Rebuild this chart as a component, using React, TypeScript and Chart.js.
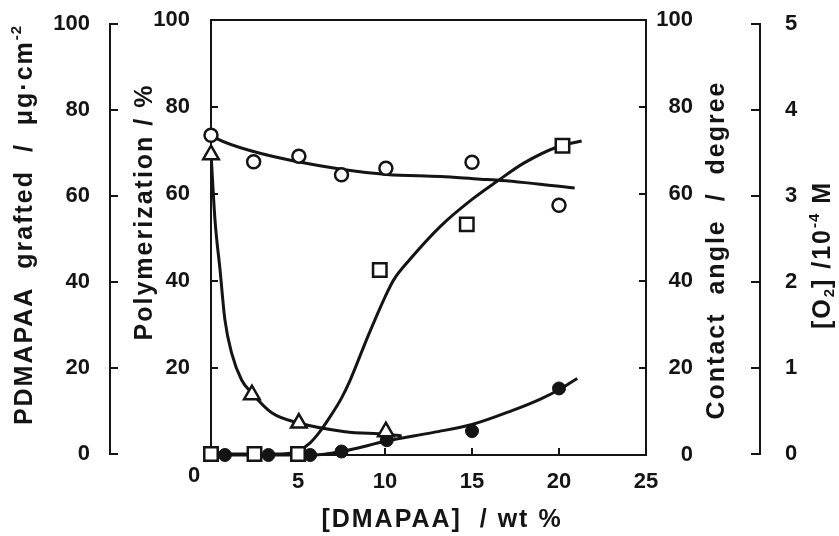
import React, { useEffect, useRef } from 'react';
import { Chart, registerables } from 'chart.js';

Chart.register(...registerables);

// ---- tick values ----
const xTicks = [0, 5, 10, 15, 20, 25];
const pctTicks = [0, 20, 40, 60, 80, 100];
const o2Ticks = [0, 1, 2, 3, 4, 5];

// ---- contact angle (open circles, right inner axis) ----
const caX = [0, 2.45, 5.05, 7.5, 10.05, 15.0, 20.0];
const caY = [73.5, 67.4, 68.7, 64.4, 65.9, 67.3, 57.4];
const caFitX = [0, 0.3, 2.5, 5.0, 7.5, 10.1, 13.2, 15.5, 16.4, 20.9];
const caFitY = [73.6, 72.8, 69.7, 67.4, 65.7, 64.5, 64.0, 63.4, 63.2, 61.4];

// ---- PDMAPAA grafted (open squares, left outer axis) ----
const pdX = [0, 2.5, 5.0, 9.7, 14.7, 20.2];
const pdY = [0, 0, 0, 42.8, 53.4, 71.7];
const pdFitX = [0, 3, 4, 5, 5.7, 6.2, 6.8, 7.5, 8, 9, 10, 10.5, 11.4, 13.2, 15, 16.4, 18, 19.9, 21.3];
const pdFitY = [0, 0, 0, 0.7, 2.6, 4.9, 8.4, 13.0, 17.2, 27.2, 36.5, 40.5, 45.1, 53.0, 59.2, 63.3, 67.7, 71.4, 72.8];

// ---- Polymerization (filled circles, left inner axis) ----
const polyX = [0.8, 3.3, 5.7, 7.5, 10.1, 15.0, 20.0];
const polyY = [0, 0, 0, 0.8, 3.4, 5.5, 15.3];
const polyFitX = [0, 5.9, 7.5, 10.1, 12.8, 15, 17.3, 18.9, 20, 21.05];
const polyFitY = [0, 0, 0.8, 3.2, 5.2, 7.0, 10.2, 12.8, 15.0, 17.6];

// ---- [O2] (open triangles, right outer axis) ----
const o2X = [0, 2.35, 5.05, 10.05];
const o2Y = [3.48, 0.69, 0.36, 0.26];
const o2FitX = [0, 0.23, 0.52, 0.8, 1.19, 1.76, 2.34, 3.49, 5.06, 7.7, 10.05, 10.96];
const o2FitY = [3.5, 2.72, 2.14, 1.56, 1.17, 0.86, 0.71, 0.48, 0.36, 0.26, 0.23, 0.21];

const FONT = '"Liberation Sans", Arial, Helvetica, sans-serif';
const INK = '#141414';

type Part = { t: string; sup?: boolean; sub?: boolean };
const titlePD: Part[] = [{ t: 'PDMAPAA  grafted  /  \u03bcg\u00b7cm' }, { t: '-2', sup: true }];
const titlePoly: Part[] = [{ t: 'Polymerization / %' }];
const titleCA: Part[] = [{ t: 'Contact  angle  /  degree' }];
const titleO2: Part[] = [{ t: '[O' }, { t: '2', sub: true }, { t: '] /10' }, { t: '-4', sup: true }, { t: ' M' }];
const titleX: Part[] = [{ t: '[DMAPAA]  / wt %' }];

const pts = (xs: number[], ys: number[]) => xs.map((x, i) => ({ x, y: ys[i] }));

function drawRich(ctx: CanvasRenderingContext2D, parts: Part[], cx: number, cy: number, rot: boolean) {
  ctx.save();
  ctx.translate(cx, cy);
  if (rot) ctx.rotate(-Math.PI / 2);
  ctx.textBaseline = 'middle';
  ctx.textAlign = 'left';
  ctx.fillStyle = INK;
  const setF = (p: Part) => {
    const small = p.sup || p.sub;
    ctx.font = `bold ${small ? 15 : 25}px ${FONT}`;
    (ctx as any).letterSpacing = small ? '1px' : '2px';
  };
  const widths = parts.map((p) => {
    setF(p);
    return ctx.measureText(p.t).width;
  });
  const total = widths.reduce((a, b) => a + b, 0);
  let x = -total / 2;
  parts.forEach((p, i) => {
    setF(p);
    const dy = p.sup ? -8 : p.sub ? 7 : 0;
    ctx.fillText(p.t, x, dy);
    x += widths[i];
  });
  ctx.restore();
}

const decor = {
  id: 'decor',
  beforeDatasetsDraw(chart: any) {
    const ctx: CanvasRenderingContext2D = chart.ctx;
    const { left, right, top, bottom } = chart.chartArea;
    const s = chart.scales;
    ctx.save();
    ctx.strokeStyle = INK;
    ctx.lineWidth = 2;
    ctx.lineCap = 'butt';
    ctx.strokeRect(left, top, right - left, bottom - top);
    const seg = (x1: number, y1: number, x2: number, y2: number) => {
      ctx.beginPath();
      ctx.moveTo(x1, y1);
      ctx.lineTo(x2, y2);
      ctx.stroke();
    };
    // inner ticks
    pctTicks.forEach((v) => {
      const p = s.y.getPixelForValue(v);
      seg(left, p, left + 7, p);
      const q = s.yCA.getPixelForValue(v);
      seg(right - 7, q, right, q);
    });
    xTicks.forEach((v) => {
      const p = s.x.getPixelForValue(v);
      seg(p, bottom, p, bottom - 7);
    });
    // outer left axis
    const xl = s.yPD.right;
    seg(xl, s.yPD.getPixelForValue(0) + 1, xl, s.yPD.getPixelForValue(100) - 1);
    pctTicks.forEach((v) => {
      const p = s.yPD.getPixelForValue(v);
      seg(xl - 1, p, xl + 8, p);
    });
    // outer right axis
    const xr = s.yO2.left + 67;
    seg(xr, s.yO2.getPixelForValue(0) + 1, xr, s.yO2.getPixelForValue(5) - 1);
    o2Ticks.forEach((v) => {
      const p = s.yO2.getPixelForValue(v);
      seg(xr - 9, p, xr + 1, p);
    });
    ctx.restore();
  },
  afterDraw(chart: any) {
    const ctx: CanvasRenderingContext2D = chart.ctx;
    const { bottom } = chart.chartArea;
    drawRich(ctx, titlePD, 25, 225, true);
    drawRich(ctx, titlePoly, 145, 212, true);
    drawRich(ctx, titleCA, 717, 250, true);
    drawRich(ctx, titleO2, 823, 255, true);
    drawRich(ctx, titleX, 442, 520, false);
    ctx.save();
    ctx.fillStyle = INK;
    ctx.font = `bold 22px ${FONT}`;
    ctx.textAlign = 'center';
    ctx.textBaseline = 'middle';
    ctx.fillText('0', 194, bottom + 21);
    ctx.restore();
  },
};

const tickFont = { size: 22, weight: 'bold' as const, family: FONT };

const fixWidth = (w: number) => (sc: any) => {
  sc.width = w;
  sc.paddingTop = 0;
  sc.paddingBottom = 0;
};

export default function App() {
  const ref = useRef<HTMLCanvasElement>(null);
  useEffect(() => {
    const fitLine = (xs: number[], ys: number[], axis: string) => ({
      data: pts(xs, ys),
      yAxisID: axis,
      showLine: true,
      borderColor: INK,
      borderWidth: 3,
      pointRadius: 0,
      cubicInterpolationMode: 'monotone' as const,
      fill: false,
      clip: false,
      order: 5,
    });
    const marks = (xs: number[], ys: number[], axis: string, style: string, r: number, filled: boolean) => ({
      data: pts(xs, ys),
      yAxisID: axis,
      pointStyle: style,
      pointRadius: r,
      pointBorderWidth: filled ? 1 : 2.5,
      pointBackgroundColor: filled ? INK : '#fff',
      pointBorderColor: INK,
      clip: false,
      order: filled ? 2 : 1,
    });
    const chart = new Chart(ref.current!, {
      type: 'scatter',
      data: {
        datasets: [
          fitLine(caFitX, caFitY, 'yCA'),
          fitLine(pdFitX, pdFitY, 'yPD'),
          fitLine(polyFitX, polyFitY, 'y'),
          fitLine(o2FitX, o2FitY, 'yO2'),
          marks(polyX, polyY, 'y', 'circle', 6.5, true),
          marks(caX, caY, 'yCA', 'circle', 6.5, false),
          marks(pdX, pdY, 'yPD', 'rect', 9.5, false),
          marks(o2X, o2Y, 'yO2', 'triangle', 9, false),
        ] as any,
      },
      options: {
        responsive: false,
        animation: false,
        layout: { padding: { top: 20, left: 0, right: 0, bottom: 0 } },
        plugins: { legend: { display: false }, tooltip: { enabled: false } },
        scales: {
          x: {
            type: 'linear',
            position: 'bottom',
            min: 0,
            max: 25,
            afterBuildTicks: (sc: any) => {
              sc.ticks = xTicks.map((value) => ({ value }));
            },
            afterFit: (sc: any) => {
              sc.height = 81;
              sc.paddingLeft = 0;
              sc.paddingRight = 0;
            },
            grid: { display: false },
            border: { display: false },
            ticks: { padding: 6, font: tickFont, color: INK, callback: (v: any) => (v === 0 ? '' : String(v)) },
          },
          y: {
            position: 'left',
            weight: 0,
            min: 0,
            max: 100,
            afterBuildTicks: (sc: any) => {
              sc.ticks = pctTicks.map((value) => ({ value }));
            },
            afterFit: fixWidth(101),
            grid: { display: false },
            border: { display: false },
            ticks: { padding: 13, font: tickFont, color: INK, callback: (v: any) => (v === 0 ? '' : String(v)) },
          },
          yPD: {
            type: 'linear',
            position: 'left',
            weight: 1,
            min: -0.23,
            max: 100.93,
            afterBuildTicks: (sc: any) => {
              sc.ticks = pctTicks.map((value) => ({ value }));
            },
            afterFit: fixWidth(110),
            grid: { display: false },
            border: { display: false },
            ticks: { padding: 12, font: tickFont, color: INK },
          },
          yCA: {
            type: 'linear',
            position: 'right',
            weight: 0,
            min: 0,
            max: 100,
            afterBuildTicks: (sc: any) => {
              sc.ticks = pctTicks.map((value) => ({ value }));
            },
            afterFit: fixWidth(47),
            grid: { display: false },
            border: { display: false },
            ticks: { padding: 0, crossAlign: 'far', font: tickFont, color: INK },
          },
          yO2: {
            type: 'linear',
            position: 'right',
            weight: 1,
            min: -0.0116,
            max: 5.0465,
            afterBuildTicks: (sc: any) => {
              sc.ticks = o2Ticks.map((value) => ({ value }));
            },
            afterFit: fixWidth(146),
            grid: { display: false },
            border: { display: false },
            ticks: { padding: 84, font: tickFont, color: INK },
          },
        } as any,
      },
      plugins: [decor],
    });
    return () => chart.destroy();
  }, []);
  return (
    <div style={{ position: 'absolute', left: 0, top: 0, width: 839, height: 536, background: '#fff' }}>
      <canvas ref={ref} width={839} height={536} style={{ display: 'block' }} />
    </div>
  );
}
